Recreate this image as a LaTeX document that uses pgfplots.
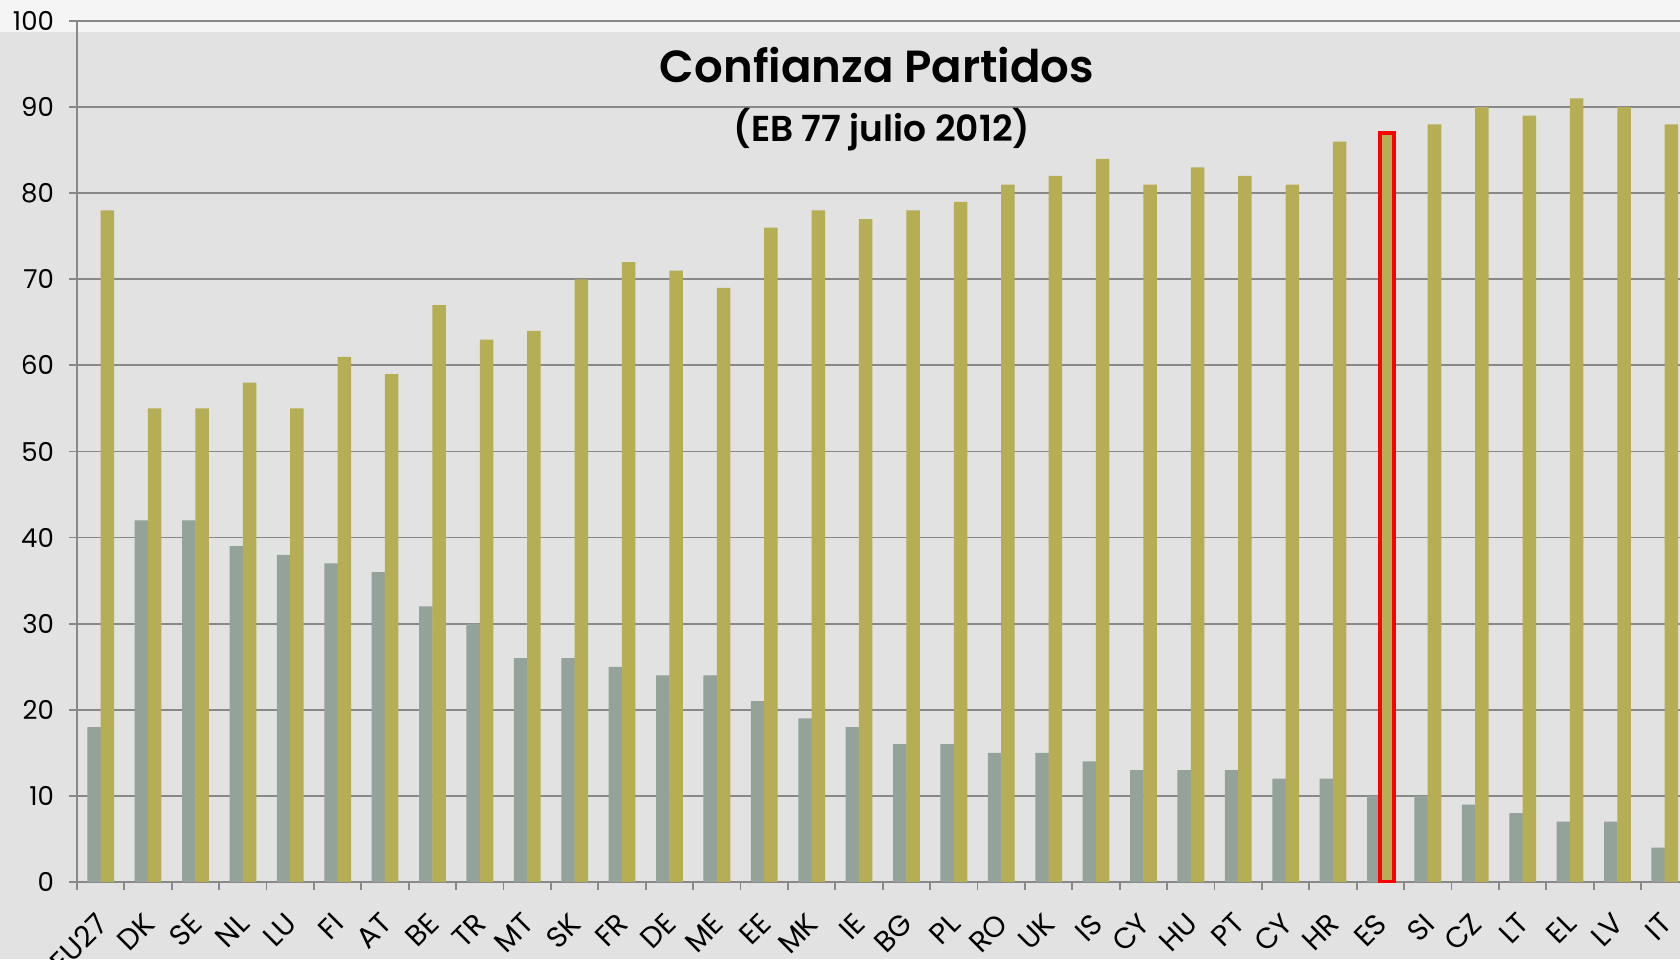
\documentclass[border=0pt]{standalone}
\usepackage{fontspec}
\setmainfont{Poppins}[BoldFont={Poppins SemiBold}]
\usepackage{pgfplots}
\pgfplotsset{compat=1.18}
\definecolor{bggray}{HTML}{E2E2E2}
\definecolor{topband}{HTML}{F5F5F5}
\definecolor{gridgray}{HTML}{888888}
\definecolor{barsage}{HTML}{93A39A}
\definecolor{barolive}{HTML}{B5AE54}
\begin{document}
\begin{tikzpicture}
\path[use as bounding box, clip] (0,0) rectangle (840pt,479.5pt);
\fill[bggray] (0,0) rectangle (840pt,479.5pt);
\fill[topband] (0,463.5pt) rectangle (840pt,479.5pt);
\begin{axis}[
  at={(38.5pt,38.5pt)}, anchor=south west,
  scale only axis, width=801.5pt, height=430.5pt,
  xmin=-0.5, xmax=33.32, ymin=0, ymax=100,
  axis x line=bottom, axis y line=left,
  axis line style={-, draw=gridgray, line width=0.9pt},
  ytick={0,10,...,100},
  ymajorgrids=true,
  grid style={draw=gridgray, line width=0.9pt},
  xtick={0,...,33},
  xticklabels={EU27,DK,SE,NL,LU,FI,AT,BE,TR,MT,SK,FR,DE,ME,EE,MK,IE,BG,PL,RO,UK,IS,CY,HU,PT,CY,HR,ES,SI,CZ,LT,EL,LV,IT},
  minor xtick={-0.5,0.5,...,33.5},
  major x tick style={draw=none},
  minor x tick style={draw=gridgray, line width=0.9pt},
  ytick style={draw=gridgray, line width=0.9pt},
  tick align=outside,
  minor tick length=4pt, major tick length=4pt,
  x tick label style={xshift=-3pt, yshift=-10.5pt, rotate=45, anchor=north east, font=\fontsize{14.5}{16}\selectfont, inner sep=0pt},
  y tick label style={font=\fontsize{13}{15}\selectfont, xshift=-4pt},
  /pgf/number format/assume math mode=true,
  ybar, bar width=0.285,
  clip=true,
]
\addplot[fill=barsage, draw=none, bar shift=-0.14] coordinates {
(0,18) (1,42) (2,42) (3,39) (4,38) (5,37) (6,36) (7,32) (8,30) (9,26)
(10,26) (11,25) (12,24) (13,24) (14,21) (15,19) (16,18) (17,16) (18,16) (19,15)
(20,15) (21,14) (22,13) (23,13) (24,13) (25,12) (26,12) (27,10) (28,10) (29,9)
(30,8) (31,7) (32,7) (33,4)};
\addplot[fill=barolive, draw=none, bar shift=0.14] coordinates {
(0,78) (1,55) (2,55) (3,58) (4,55) (5,61) (6,59) (7,67) (8,63) (9,64)
(10,70) (11,72) (12,71) (13,69) (14,76) (15,78) (16,77) (17,78) (18,79) (19,81)
(20,82) (21,84) (22,81) (23,83) (24,82) (25,81) (26,86) (28,88) (29,90)
(30,89) (31,91) (32,90) (33,88)};
\addplot[fill=barolive, draw=red, line width=2pt, bar shift=0.14] coordinates {(27,87)};
\end{axis}
\node[anchor=base, font=\fontsize{22.5}{26}\selectfont\bfseries] at (438.5pt,438pt) {Confianza Partidos};
\node[anchor=base, font=\fontsize{18}{20}\selectfont\bfseries] at (441pt,408.5pt) {(EB 77 julio 2012)};
\end{tikzpicture}
\end{document}
